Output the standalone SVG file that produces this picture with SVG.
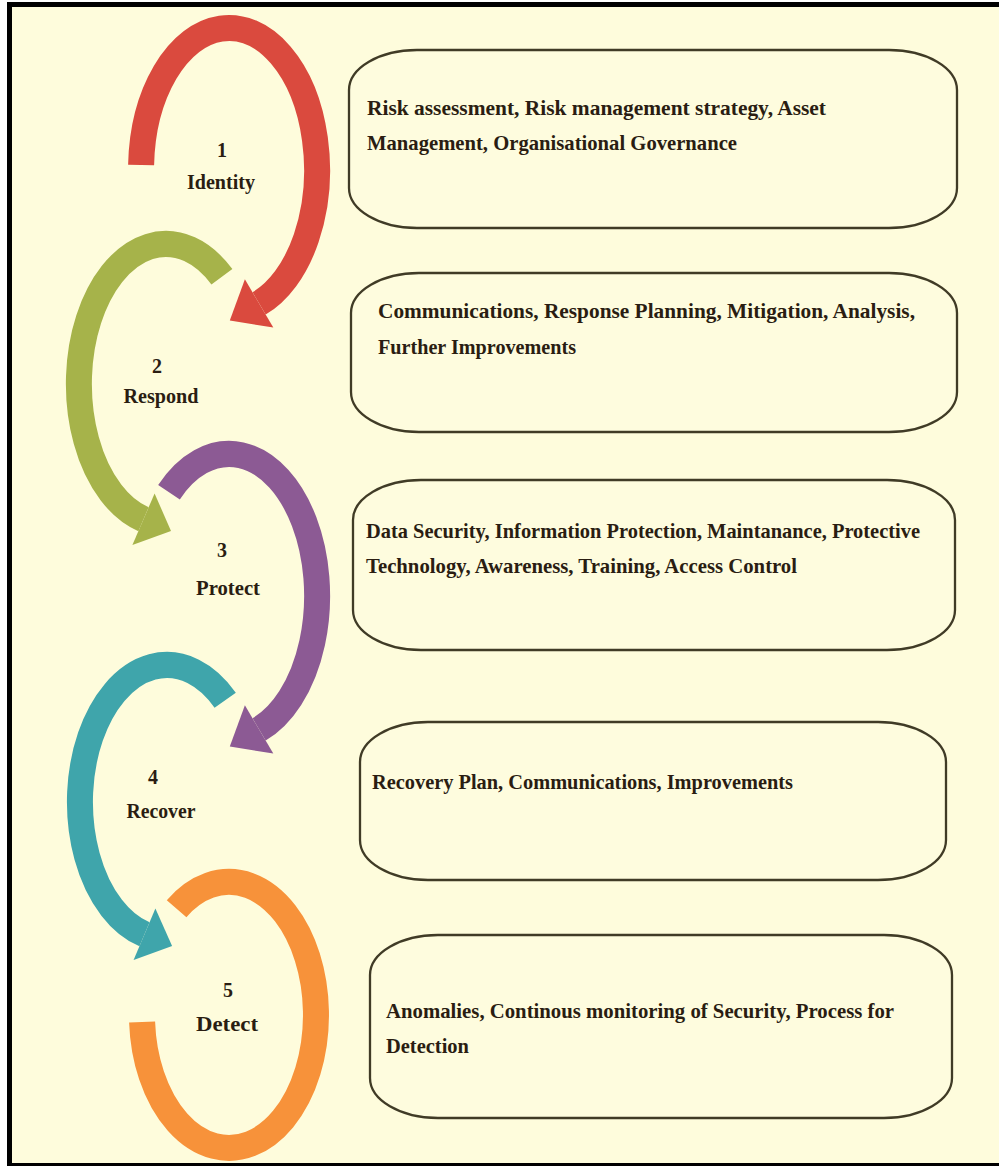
<svg xmlns="http://www.w3.org/2000/svg" width="999" height="1166" viewBox="0 0 999 1166">
<style>
.bg{fill:#FEFCDC}
.frame{fill:none;stroke:#000;stroke-width:5}
.box{fill:#FEFCDE;stroke:#403b26;stroke-width:2.3}
.arc{fill:none;stroke-width:26;stroke-linecap:butt}
.t{font-family:"Liberation Serif","DejaVu Serif",serif;font-weight:bold;font-size:21px;fill:#2a1d12}
.lbl{font-family:"Liberation Serif","DejaVu Serif",serif;font-weight:bold;font-size:20px;fill:#2a1d12;text-anchor:middle}
</style>
<rect x="0" y="0" width="999" height="1166" fill="#fff"/>
<rect class="bg" x="9.5" y="4.5" width="995" height="1161"/>
<path class="frame" d="M999 4.5 H9.5 V1165.5 H999"/>

<g id="connectors">
  <g id="arc1">
    <path class="arc" stroke="#DA4A3E" d="M141.1 165 A88 142 0 1 1 259.1 303.4"/>
    <polygon fill="#DA4A3E" points="273.3,327.5 244.9,279.3 229.8,320.6"/>
  </g>
  <g id="arc2">
    <path class="arc" stroke="#A6B34A" d="M221.9 276.8 A87 140 0 1 0 143.5 519.2"/>
    <polygon fill="#A6B34A" points="132.4,544.9 154.6,493.5 171,531.1"/>
  </g>
  <g id="arc3">
    <path class="arc" stroke="#8C5A94" d="M169 492.2 A88 142 0 1 1 259.1 729.4"/>
    <polygon fill="#8C5A94" points="273.3,753.5 244.9,705.3 229.8,746.6"/>
  </g>
  <g id="arc4">
    <path class="arc" stroke="#3FA5AB" d="M225.2 700.2 A87 137 0 1 0 144.5 934.3"/>
    <polygon fill="#3FA5AB" points="133.6,960.1 155.4,908.5 172.1,946"/>
  </g>
  <g id="arc5">
    <path class="arc" stroke="#F7923A" d="M176.6 908.7 A87 133 0 1 1 142.1 1022"/>
  </g>
</g>

<g id="node-identity">
  <text class="lbl" x="222" y="157">1</text>
  <text class="lbl" x="221" y="189" textLength="68" lengthAdjust="spacingAndGlyphs">Identity</text>
</g>
<g id="node-respond">
  <text class="lbl" x="157" y="373">2</text>
  <text class="lbl" x="161" y="403" textLength="75" lengthAdjust="spacingAndGlyphs">Respond</text>
</g>
<g id="node-protect">
  <text class="lbl" x="222" y="557">3</text>
  <text class="lbl" x="228" y="595" textLength="64" lengthAdjust="spacingAndGlyphs">Protect</text>
</g>
<g id="node-recover">
  <text class="lbl" x="153" y="784">4</text>
  <text class="lbl" x="161" y="818" textLength="69" lengthAdjust="spacingAndGlyphs">Recover</text>
</g>
<g id="node-detect">
  <text class="lbl" x="228" y="997">5</text>
  <text class="lbl" x="227" y="1031" textLength="62" lengthAdjust="spacingAndGlyphs">Detect</text>
</g>

<g id="box-identity">
  <rect class="box" x="349" y="50" width="608" height="178" rx="68" ry="40"/>
  <text class="t" x="367" y="115" textLength="459" lengthAdjust="spacingAndGlyphs">Risk assessment, Risk management strategy, Asset</text>
  <text class="t" x="367" y="150" textLength="370" lengthAdjust="spacingAndGlyphs">Management, Organisational Governance</text>
</g>
<g id="box-respond">
  <rect class="box" x="351" y="273" width="606" height="159" rx="68" ry="40"/>
  <text class="t" x="378" y="318" textLength="537" lengthAdjust="spacingAndGlyphs">Communications, Response Planning, Mitigation, Analysis,</text>
  <text class="t" x="378" y="354" textLength="198" lengthAdjust="spacingAndGlyphs">Further Improvements</text>
</g>
<g id="box-protect">
  <rect class="box" x="353" y="480" width="602" height="170" rx="68" ry="40"/>
  <text class="t" x="366" y="538" textLength="554" lengthAdjust="spacingAndGlyphs">Data Security, Information Protection, Maintanance, Protective</text>
  <text class="t" x="366" y="573" textLength="431" lengthAdjust="spacingAndGlyphs">Technology, Awareness, Training, Access Control</text>
</g>
<g id="box-recover">
  <rect class="box" x="360" y="722" width="586" height="158" rx="68" ry="40"/>
  <text class="t" x="372" y="789" textLength="421" lengthAdjust="spacingAndGlyphs">Recovery Plan, Communications, Improvements</text>
</g>
<g id="box-detect">
  <rect class="box" x="370" y="935" width="582" height="183" rx="68" ry="40"/>
  <text class="t" x="386" y="1018" textLength="508" lengthAdjust="spacingAndGlyphs">Anomalies, Continous monitoring of Security, Process for</text>
  <text class="t" x="386" y="1053" textLength="83" lengthAdjust="spacingAndGlyphs">Detection</text>
</g>
</svg>
